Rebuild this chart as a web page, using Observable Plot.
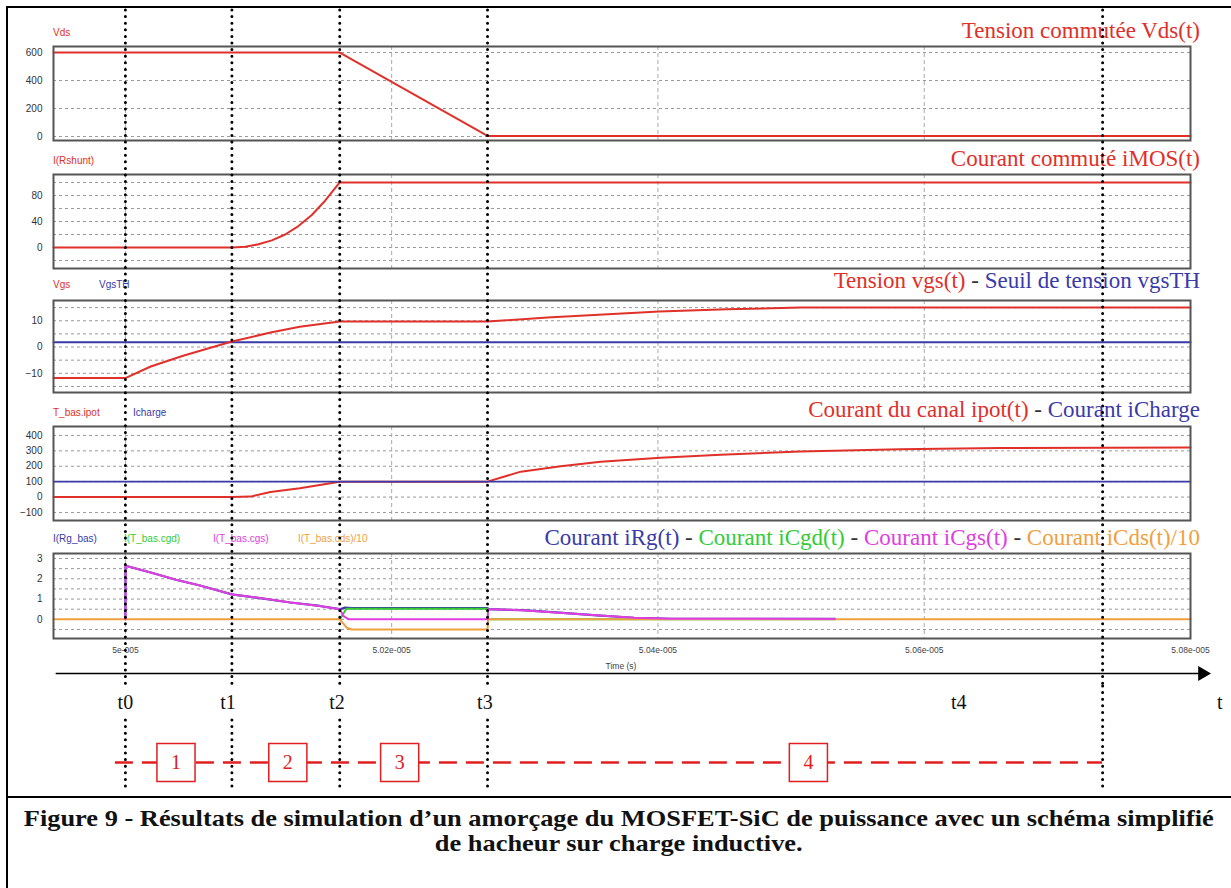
<!DOCTYPE html>
<html><head><meta charset="utf-8">
<script src="https://cdn.jsdelivr.net/npm/d3@7"></script>
<script src="https://cdn.jsdelivr.net/npm/@observablehq/plot@0.6"></script>
<style>
body{margin:0;background:#fff;}
#root{position:relative;width:1231px;height:888px;overflow:hidden;background:#fff;font-family:"Liberation Serif","Times New Roman",serif;}
.title{position:absolute;right:31px;font-size:23px;line-height:23px;white-space:nowrap;}
.lab{position:absolute;font-family:"Liberation Sans",Arial,sans-serif;font-size:10px;line-height:10px;white-space:nowrap;}
.capline{position:absolute;left:7px;width:1224px;text-align:center;font-weight:bold;font-family:"Liberation Serif",serif;font-size:23.5px;line-height:25px;color:#111;white-space:nowrap;}
.capline span{display:inline-block;transform-origin:50% 50%;}
</style></head><body><div id="root"></div>
<script>
// ---------- data (time in ns after 5e-5 s) ----------
const xDomain = [-54, 800];
const xGridNs = [0, 200, 400, 600];
const xTickNs = [0, 200, 400, 600, 800];
const xTickLabels = ["5e-005", "5.02e-005", "5.04e-005", "5.06e-005", "5.08e-005"];

const tLines = [0, 80, 161, 272, 734];
const tLabelNames = ["t0", "t1", "t2", "t3", "t4", "t"];
const tLabelTimes = [0, 77, 159, 270, 626, 822];
const phaseNames = ["1", "2", "3", "4"];
const phaseTimes = [38, 122, 206, 513];
const phaseSpan = [-7.5, 734];
const axisSpan = [-52, 807];
const arrowTip = [809];

// Panel 1 : Vds
const vdsT = [-54, 161, 272, 800];
const vdsV = [600, 600, 4, 4];
const vdsTicks = [0, 200, 400, 600];
const vdsGrid = [0, 200, 400, 600];

// Panel 2 : iMOS
const imosT = [-54, 80, 90, 100, 110, 120, 130, 140, 150, 161, 800];
const imosV = [0, 0, 1, 5, 11, 20, 33, 50, 72, 100, 100];
const imosTicks = [0, 40, 80];
const imosGrid = [-20, 0, 20, 40, 60, 80, 100];

// Panel 3 : Vgs and threshold
const vgsT = [-54, 0, 19, 44, 80, 109, 131, 161, 272, 317, 401, 452, 507, 800];
const vgsV = [-11.8, -11.8, -7.4, -3.2, 2.1, 5.5, 7.7, 9.7, 9.7, 11.2, 13.5, 14.4, 15, 15];
const vgsThT = [-54, 800];
const vgsThV = [1.8, 1.8];
const vgsTicks = [-10, 0, 10];
const vgsGrid = [-15, -10, -5, 0, 5, 10, 15];

// Panel 4 : ipot and iCharge
const ipotT = [-54, 80, 94, 109, 131, 146, 161, 272, 297, 327, 357, 402, 447, 507, 582, 657, 800];
const ipotV = [0, 0, 3, 33, 57, 78, 100, 100, 165, 200, 230, 255, 275, 295, 310, 318, 322];
const ichT = [-54, 800];
const ichV = [100, 100];
const ipotTicks = [-100, 0, 100, 200, 300, 400];
const ipotGrid = [-100, 0, 100, 200, 300, 400];

// Panel 5 : gate currents
const irgT = [0, 0.1, 19, 38, 56, 80, 101, 124, 146, 161, 165, 170, 272, 273, 298, 326, 354, 382, 410, 533];
const irgV = [0, 2.64, 2.31, 1.95, 1.67, 1.23, 1.05, 0.83, 0.66, 0.5, 0.58, 0.55, 0.55, 0.5, 0.45, 0.33, 0.2, 0.08, 0.03, 0.02];
const icgdT = [161, 166, 272, 272.5, 533];
const icgdV = [0, 0.52, 0.52, 0, 0];
const icgsT = [0, 0.1, 19, 38, 56, 80, 101, 124, 146, 161, 164, 168, 272, 272.5, 298, 326, 354, 382, 410, 533];
const icgsV = [0, 2.64, 2.31, 1.95, 1.67, 1.23, 1.05, 0.83, 0.66, 0.5, 0.15, 0, 0, 0.5, 0.45, 0.33, 0.2, 0.08, 0.03, 0.02];
const icdsT = [-54, 161, 163, 166, 170, 272, 272.5, 800];
const icdsV = [0, 0, -0.15, -0.4, -0.5, -0.5, 0, 0];
const igTicks = [0, 1, 2, 3];
const igGrid = [-0.5, 0, 0.5, 1, 1.5, 2, 2.5, 3];

// ---------- styles ----------
const RED = "#e0302a", BLUE = "#3a3aa8", GREEN = "#33cc33", MAG = "#e040e0", ORANGE = "#f0a040";
const W = 1231, ML = 53, MR = 41;
const root = document.getElementById("root");
const pts = (ts, vs) => ts.map((t, i) => ({t, v: vs[i]}));
const dotted = {stroke: "#000", strokeWidth: 3, strokeDasharray: "0,6.6", strokeLinecap: "round"};
const svgStyle = {overflow: "visible", background: "transparent"};

function place(el, top, left = 0) {
  el.style.position = "absolute";
  el.style.top = top + "px";
  el.style.left = left + "px";
  root.appendChild(el);
}
function html(cls, top, left, parts, extra) {
  const d = document.createElement("div");
  d.className = cls;
  d.style.top = top + "px";
  if (left != null) d.style.left = left + "px";
  if (extra) Object.assign(d.style, extra);
  for (const [txt, col] of parts) {
    const s = document.createElement("span");
    s.textContent = txt; s.style.color = col;
    d.appendChild(s);
  }
  root.appendChild(d);
  return d;
}

// outer frame and divider
const border = document.createElement("div");
Object.assign(border.style, {position: "absolute", left: "6px", top: "6px", width: "1300px", height: "1000px", border: "2px solid #000"});
root.appendChild(border);
const divider = document.createElement("div");
Object.assign(divider.style, {position: "absolute", left: "6px", top: "796px", width: "1300px", height: "2px", background: "#000"});
root.appendChild(divider);

function panel({top, h, yDomain, grid, ticks, marks, xAxis}) {
  const mb = xAxis ? 30 : 2;
  const svg = Plot.plot({
    width: W, height: h + 2 + mb,
    marginLeft: ML, marginRight: MR, marginTop: 2, marginBottom: mb,
    style: svgStyle,
    x: {domain: xDomain, axis: null},
    y: {domain: yDomain},
    marks: [
      Plot.gridY(grid, {stroke: "#999", strokeOpacity: 1, strokeDasharray: "3,3", strokeWidth: 1}),
      Plot.gridX(xGridNs, {stroke: "#aaa", strokeOpacity: 1, strokeDasharray: "4,3", strokeWidth: 1}),
      Plot.axisY(ticks, {tickSize: 0, tickPadding: 11, fontSize: 10, fontFamily: "Liberation Sans", fill: "#333", label: null}),
      xAxis ? Plot.axisX(xTickNs, {tickSize: 0, tickPadding: 8, fontSize: 8.5, fontFamily: "Liberation Sans", fill: "#444", label: null, tickFormat: d => xTickLabels[xTickNs.indexOf(d)]}) : null,
      ...marks,
      Plot.frame({stroke: "#555", strokeWidth: 2})
    ]
  });
  place(svg, top - 2);
}

panel({top: 46, h: 94, yDomain: [-28.6, 643], grid: vdsGrid, ticks: vdsTicks, marks: [
  Plot.line(pts(vdsT, vdsV), {x: "t", y: "v", stroke: RED, strokeWidth: 2})
]});
panel({top: 174, h: 94, yDomain: [-32.3, 112.3], grid: imosGrid, ticks: imosTicks, marks: [
  Plot.line(pts(imosT, imosV), {x: "t", y: "v", stroke: RED, strokeWidth: 2})
]});
panel({top: 300, h: 92, yDomain: [-17.3, 17.7], grid: vgsGrid, ticks: vgsTicks, marks: [
  Plot.line(pts(vgsThT, vgsThV), {x: "t", y: "v", stroke: BLUE, strokeWidth: 2}),
  Plot.line(pts(vgsT, vgsV), {x: "t", y: "v", stroke: RED, strokeWidth: 2})
]});
panel({top: 426, h: 94, yDomain: [-152, 458], grid: ipotGrid, ticks: ipotTicks, marks: [
  Plot.line(pts(ipotT, ipotV), {x: "t", y: "v", stroke: RED, strokeWidth: 2}),
  Plot.line(pts(ichT, ichV), {x: "t", y: "v", stroke: BLUE, strokeWidth: 1.6})
]});
panel({top: 553, h: 85, yDomain: [-0.944, 3.246], grid: igGrid, ticks: igTicks, xAxis: true, marks: [
  Plot.line(pts(irgT, irgV), {x: "t", y: "v", stroke: BLUE, strokeWidth: 2.2}),
  Plot.line(pts(icgdT, icgdV), {x: "t", y: "v", stroke: GREEN, strokeWidth: 2}),
  Plot.line(pts(icdsT, icdsV), {x: "t", y: "v", stroke: ORANGE, strokeWidth: 2}),
  Plot.line(pts(icgsT, icgsV), {x: "t", y: "v", stroke: MAG, strokeWidth: 2})
]});

// x axis title
html("lab", 661, 571, [["Time (s)", "#444"]], {width: "100px", textAlign: "center", fontSize: "8.5px"});

// panel titles (right aligned)
html("title", 19, null, [["Tension commutée Vds(t)", RED]]);
html("title", 147, null, [["Courant commuté iMOS(t)", RED]]);
html("title", 269, null, [["Tension vgs(t)", RED], [" - ", "#333"], ["Seuil de tension vgsTH", BLUE]]);
html("title", 398, null, [["Courant du canal ipot(t)", RED], [" - ", "#333"], ["Courant iCharge", BLUE]]);
html("title", 526, null, [["Courant iRg(t)", BLUE], [" - ", "#333"], ["Courant iCgd(t)", GREEN], [" - ", "#333"], ["Courant iCgs(t)", MAG], [" - ", "#333"], ["Courant iCds(t)/10", ORANGE]]);

// trace names (top-left of each panel)
html("lab", 28, 53, [["Vds", RED]]);
html("lab", 156, 53, [["I(Rshunt)", RED]]);
html("lab", 280, 53, [["Vgs", RED]]);
html("lab", 280, 99, [["VgsTH", BLUE]]);
html("lab", 408, 53, [["T_bas.ipot", RED]]);
html("lab", 408, 133, [["Icharge", BLUE]]);
html("lab", 534, 53, [["I(Rg_bas)", BLUE]]);
html("lab", 534, 124, [["I(T_bas.cgd)", GREEN]]);
html("lab", 534, 213, [["I(T_bas.cgs)", MAG]]);
html("lab", 534, 298, [["I(T_bas.cds)/10", ORANGE]]);

// time axis arrow
place(Plot.plot({
  width: W, height: 16, marginLeft: ML, marginRight: MR, marginTop: 0, marginBottom: 0, style: svgStyle,
  x: {domain: xDomain, axis: null}, y: {domain: [-1, 1], axis: null},
  marks: [
    Plot.ruleY([0], {x1: axisSpan[0], x2: axisSpan[1], stroke: "#000", strokeWidth: 1.5}),
    Plot.dot(arrowTip, {x: d => d, y: 0, symbol: "triangle", r: 5.5, rotate: 90, fill: "#000", stroke: "none"})
  ]
}), 665);

// vertical dotted time markers (top part)
place(Plot.plot({
  width: W, height: 678, marginLeft: ML, marginRight: MR, marginTop: 0, marginBottom: 0, style: svgStyle,
  x: {domain: xDomain, axis: null},
  marks: [Plot.ruleX(tLines, dotted)]
}), 10);

// t labels row
place(Plot.plot({
  width: W, height: 32, marginLeft: ML, marginRight: MR, marginTop: 0, marginBottom: 0, style: svgStyle,
  x: {domain: xDomain, axis: null},
  marks: [
    Plot.ruleX(tLines.slice(-1), dotted),
    Plot.text(tLabelNames, {x: (d, i) => tLabelTimes[i], text: d => d, fontSize: 20, fontFamily: "Liberation Serif", fill: "#111"})
  ]
}), 686);

// phases row
const phases = phaseNames.map((n, i) => ({n, t: phaseTimes[i]}));
place(Plot.plot({
  width: W, height: 70, marginLeft: ML, marginRight: MR, marginTop: 14, marginBottom: 0, style: svgStyle,
  x: {domain: xDomain, axis: null}, y: {domain: [-1, 1], axis: null},
  marks: [
    Plot.ruleX(tLines, {...dotted, insetTop: -14}),
    Plot.ruleY([0], {x1: phaseSpan[0], x2: phaseSpan[1], stroke: "#e02020", strokeWidth: 2.5, strokeDasharray: "18,9"}),
    Plot.dot(phases, {x: "t", y: 0, symbol: "square", r: 21.5, fill: "#fff", stroke: "#e02020", strokeWidth: 1.5}),
    Plot.text(phases, {x: "t", y: 0, text: "n", fontSize: 20, fontFamily: "Liberation Serif", fill: "#e02020"})
  ]
}), 720);

// caption (two centred lines, first one fitted to the reference width)
const c1 = html("capline", 806, null, [["Figure 9 - Résultats de simulation d’un amorçage du MOSFET-SiC de puissance avec un schéma simplifié", "#111"]]);
const c2 = html("capline", 831, null, [["de hacheur sur charge inductive.", "#111"]]);
const s1 = c1.firstChild, s2 = c2.firstChild;
const k = 1190 / s1.getBoundingClientRect().width;
s1.style.transform = `scaleX(${k})`;
s2.style.transform = `scaleX(${k})`;
</script></body></html>
